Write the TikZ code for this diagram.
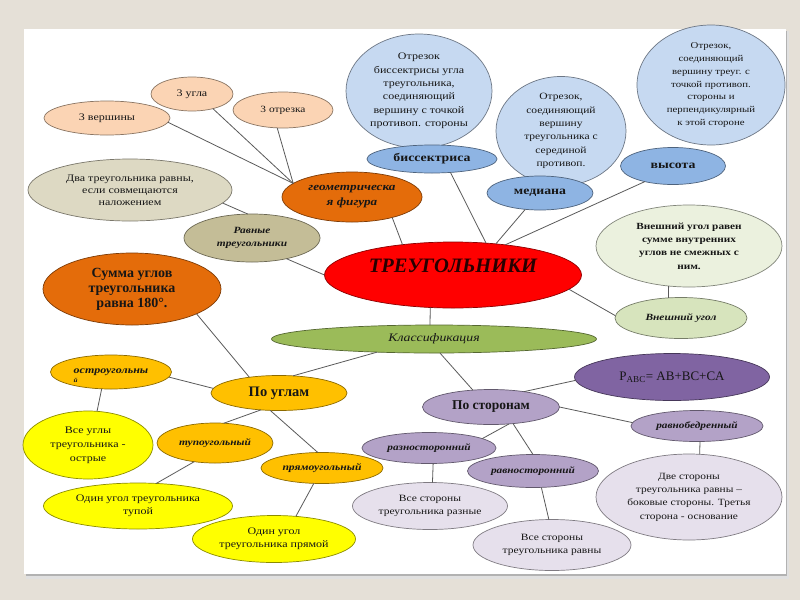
\documentclass[tikz,border=0pt]{standalone}
\usepackage{fontspec}
\setmainfont{Liberation Serif}[FakeStretch=1.2]
\newfontfamily\plainfam{Liberation Serif}
\usetikzlibrary{shapes.geometric}
\newcommand\myfs[2]{\fontsize{#1}{#2}\selectfont}
\definecolor{bgc}{RGB}{229,224,215}
\definecolor{txt}{RGB}{22,22,22}
\definecolor{linec}{RGB}{90,90,90}
\definecolor{peach}{HTML}{FBD4B4}
\definecolor{dvac}{HTML}{DDD9C3}
\definecolor{ravc}{HTML}{C4BD97}
\definecolor{orng}{HTML}{E46C0A}
\definecolor{redc}{HTML}{FF0000}
\definecolor{grn}{HTML}{9BBB59}
\definecolor{bluel}{HTML}{C6D9F1}
\definecolor{bluem}{HTML}{8EB4E3}
\definecolor{grnl}{HTML}{EBF1DE}
\definecolor{grnm}{HTML}{D7E4BD}
\definecolor{purd}{HTML}{8064A2}
\definecolor{gold}{HTML}{FFC000}
\definecolor{yel}{HTML}{FFFF00}
\definecolor{purm}{HTML}{B3A2C7}
\definecolor{purl}{HTML}{E6E0EC}
\definecolor{trtext}{RGB}{40,0,0}
\tikzset{
  bub/.style={ellipse, inner sep=-4pt, outer sep=0pt, line width=0.7pt, align=center, text=txt},
  fc/.style={fill=#1, draw=#1!55!black},
  sz/.style 2 args={minimum width=#1pt, minimum height=#2pt},
  link/.style={draw=linec, line width=0.8pt},
}
\begin{document}
\begin{tikzpicture}[x=1pt,y=-1pt]
\useasboundingbox (0,0) rectangle (800,600);
\fill[bgc] (0,0) rectangle (800,600);
% panel with shadow
\fill[black!12] (26,31) rectangle (789,579);
\fill[black!30] (26,31) rectangle (787,576);
\fill[white] (24,29) rectangle (786,574);

% top-left group
\node[bub, fc=peach, sz={126}{34}, font=\myfs{10}{11}] (v3) at (107,118) {3 вершины};
\node[bub, fc=peach, sz={82}{34}, font=\myfs{10}{11}] (u3) at (192,94) {3 угла};
\node[bub, fc=peach, sz={100}{36}, font=\myfs{9.5}{11}] (o3) at (283,110) {3 отрезка};
\node[bub, fc=dvac, sz={204}{62}, font=\myfs{10}{12}] (dva) at (130,190) {Два треугольника равны,\\если совмещаются\\наложением};
\node[bub, fc=orng, sz={140}{50}, font=\myfs{11}{15}\bfseries\itshape] (geo) at (352,197) {геометрическа\\я фигура};
\node[bub, fc=ravc, sz={136}{48}, font=\myfs{9.5}{13.5}\bfseries\itshape] (ravn) at (252,238) {Равные\\треугольники};
\node[bub, fc=orng, sz={178}{72}, font=\plainfam\myfs{14}{15}\bfseries] (summa) at (132,289) {Сумма углов\\треугольника\\равна 180°.};

% center
\node[bub, fc=redc, sz={257}{66}, font=\plainfam\myfs{20.5}{22}\bfseries\itshape, text=trtext] (tr) at (453,275) {\smash{\raisebox{3pt}{ТРЕУГОЛЬНИКИ}}};
\node[bub, fc=grn, sz={325}{28}, font=\myfs{11.5}{13}\itshape] (klass) at (434,339) {Классификация};

% top circles
\node[bub, fc=bluel, sz={146}{114}, font=\myfs{10}{13.4}] (bisc) at (419,91) {Отрезок\\биссектрисы угла\\треугольника,\\соединяющий\\вершину с точкой\\противоп. стороны};
\node[bub, fc=bluem, sz={130}{28}, font=\myfs{11.5}{14}\bfseries] (bis) at (432,159) {биссектриса};
\node[bub, fc=bluel, sz={130}{109}, font=\myfs{9.6}{13.4}] (medc) at (561,131) {Отрезок,\\соединяющий\\вершину\\треугольника с\\серединой\\противоп.};
\node[bub, fc=bluem, sz={106}{34}, font=\myfs{11.5}{13}\bfseries] (med) at (540,193) {медиана};
\node[bub, fc=bluel, sz={148}{120}, font=\myfs{9}{12.8}] (vysc) at (711,85) {Отрезок,\\соединяющий\\вершину треуг. с\\точкой противоп.\\стороны и\\перпендикулярный\\к этой стороне};
\node[bub, fc=bluem, sz={105}{37}, font=\myfs{11.5}{13}\bfseries] (vys) at (673,166) {высота};

% right side
\node[bub, fc=grnl, sz={186}{82}, font=\myfs{9.4}{13.3}\bfseries] (vneshR) at (689,246) {Внешний угол равен\\сумме внутренних\\углов не смежных с\\ним.};
\node[bub, fc=grnm, sz={132}{41}, font=\myfs{9.5}{11}\itshape\bfseries] (vnesh) at (681,318) {Внешний угол};
\node[bub, fc=purd, sz={195}{47}, font=\plainfam\myfs{13}{15}] (pabc) at (672,377) {P\textsubscript{ABC}= AB+BC+CA};

% by angles
\node[bub, fc=gold, sz={121}{34}, font=\myfs{10}{11}\bfseries\itshape] (ostro) at (111,372) {\rlap{\smash{\raisebox{-9pt}{\myfs{6}{6}й}}}остроугольны};
\node[bub, fc=gold, sz={136}{35}, font=\plainfam\myfs{14.5}{17}\bfseries] (poU) at (279,393) {По углам};
\node[bub, fc=yel, sz={130}{68}, font=\myfs{10}{14}] (vseU) at (88,445) {Все углы\\треугольника -\\острые};
\node[bub, fc=gold, sz={116}{40}, font=\myfs{9.5}{11}\bfseries\itshape] (tupo) at (215,443) {тупоугольный};
\node[bub, fc=gold, sz={122}{31}, font=\myfs{9.7}{11}\bfseries\itshape] (pryam) at (322,468) {прямоугольный};
\node[bub, fc=yel, sz={189}{46}, font=\myfs{10}{13}] (odT) at (138,506) {Один угол треугольника\\тупой};
\node[bub, fc=yel, sz={163}{47}, font=\myfs{10}{13}] (odP) at (274,539) {Один угол\\треугольника прямой};

% by sides
\node[bub, fc=purm, sz={137}{35}, font=\plainfam\myfs{13.5}{16}\bfseries] (poS) at (491,407) {По сторонам};
\node[bub, fc=purm, sz={134}{31}, font=\myfs{9.4}{11}\bfseries\itshape] (razno) at (429,448) {разносторонний};
\node[bub, fc=purm, sz={131}{33}, font=\myfs{9.4}{11}\bfseries\itshape] (ravnos) at (533,471) {равносторонний};
\node[bub, fc=purm, sz={132}{31}, font=\myfs{9.4}{11}\bfseries\itshape] (ravnob) at (697,426) {равнобедренный};
\node[bub, fc=purl, sz={155}{47}, font=\myfs{9.6}{13}] (vsR) at (430,506) {Все стороны\\треугольника разные};
\node[bub, fc=purl, sz={158}{51}, font=\myfs{9.6}{13}] (vsRv) at (552,545) {Все стороны\\треугольника равны};
\node[bub, fc=purl, sz={186}{86}, font=\myfs{9.5}{13.3}] (dve) at (689,497) {Две стороны\\треугольника равны –\\боковые стороны. Третья\\сторона - основание};

% connectors
\draw[link] (v3.-4) -- (geo.167);
\draw[link] (u3.-35) -- (geo.167);
\draw[link] (o3.-108) -- (geo.167);
\draw[link] (dva.-8) -- (ravn.100);
\draw[link] (ravn.-31) -- (tr.180);
\draw[link] (geo.-27) -- (tr.149);
\draw[link] (summa.-21) -- (poU.152);
\draw[link] (bis.-36) -- (tr.44);
\draw[link] (med.-132) -- (tr.36);
\draw[link] (vys.-151) -- (tr.30);
\draw[link] (tr.-7) -- (vnesh.178);
\draw[link] (vnesh.122) -- (vneshR.-117);
\draw[link] (tr.-125) -- (klass.106);
\draw[link] (klass.-167) -- (poU.51);
\draw[link] (klass.-67) -- (poS.137);
\draw[link] (poS.25) -- (pabc.182);
\draw[link] (poS.0) -- (ravnob.177);
\draw[link] (poS.-43) -- (razno.10);
\draw[link] (poS.-37) -- (ravnos.90);
\draw[link] (razno.-75) -- (vsR.84);
\draw[link] (ravnos.-63) -- (vsRv.97);
\draw[link] (ravnob.-79) -- (dve.76);
\draw[link] (poU.176) -- (ostro.-5);
\draw[link] (ostro.-119) -- (vseU.75);
\draw[link] (poU.-137) -- (tupo.66);
\draw[link] (poU.-117) -- (pryam.105);
\draw[link] (tupo.-138) -- (odT.51);
\draw[link] (pryam.-118) -- (odP.46);
\end{tikzpicture}
\end{document}
